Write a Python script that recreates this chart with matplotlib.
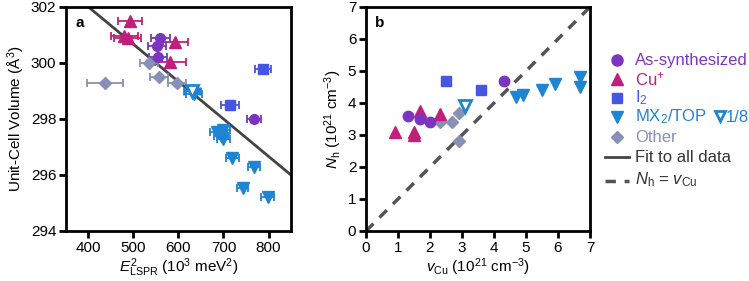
import matplotlib.pyplot as plt
from matplotlib.lines import Line2D

plt.rcParams['font.family'] = ['Liberation Sans', 'DejaVu Sans']
plt.rcParams['mathtext.fontset'] = 'custom'
plt.rcParams['mathtext.rm'] = 'Liberation Sans'
plt.rcParams['mathtext.it'] = 'Liberation Sans:italic'
plt.rcParams['mathtext.bf'] = 'Liberation Sans:bold'

# colours
c_as = '#7b35c0'
c_cu = '#c0207a'
c_i2 = '#4656e4'
c_mx = '#1f84d2'
c_ot = '#8890b8'
c_fit = '#444444'

# ---------------- panel a data: E^2_LSPR (10^3 meV^2) vs unit-cell volume ----------------
as_e2 = [560, 552, 554, 768]
as_vol = [300.9, 300.6, 300.2, 298.0]
as_err = [22, 20, 20, 16]

cu_e2 = [493, 480, 487, 593, 582]
cu_vol = [301.5, 300.95, 300.9, 300.75, 300.05]
cu_err = [27, 30, 30, 28, 35]

i2_e2 = [787, 714]
i2_vol = [299.8, 298.5]
i2_err = [18, 20]

ot_e2 = [437, 534, 556, 597]
ot_vol = [299.3, 300.0, 299.5, 299.3]
ot_err = [40, 20, 20, 20]

mx_e2 = [634, 685, 700, 695, 700, 720, 768, 743, 798]
mx_vol = [298.9, 297.55, 297.6, 297.4, 297.3, 296.6, 296.3, 295.55, 295.2]
mx_err = [18, 15, 15, 15, 15, 14, 14, 12, 14]

mx8_e2 = [630]
mx8_vol = [299.0]
mx8_err = [18]

fit_x = [400, 850]
fit_y = [302.0, 296.0]

# ---------------- panel b data: v_Cu vs N_h (10^21 cm^-3) ----------------
as_v = [1.3, 1.7, 2.0, 4.3]
as_n = [3.6, 3.5, 3.4, 4.7]

cu_v = [0.9, 1.5, 1.5, 1.7, 2.3]
cu_n = [3.1, 3.1, 3.0, 3.75, 3.65]

i2_v = [2.5, 3.6]
i2_n = [4.7, 4.4]

ot_v = [2.3, 2.7, 2.9, 2.9]
ot_n = [3.4, 3.4, 3.7, 2.8]

mx_v = [4.7, 4.9, 5.5, 5.9, 6.7, 6.7]
mx_n = [4.2, 4.25, 4.4, 4.6, 4.8, 4.5]

mx8_v = [3.1]
mx8_n = [3.9]

fig = plt.figure(figsize=(7.49, 2.81), dpi=100)
ax1 = fig.add_axes([66 / 749, 50 / 281, 225 / 749, 224 / 281])
ax2 = fig.add_axes([366 / 749, 50 / 281, 224 / 749, 224 / 281])

ebkw = dict(capsize=3, elinewidth=1.3, capthick=1.3, linestyle='none')

ax1.plot(fit_x, fit_y, color=c_fit, lw=2, zorder=1)
ax1.errorbar(ot_e2, ot_vol, xerr=ot_err, marker='D', ms=6, color=c_ot, **ebkw)
ax1.errorbar(mx_e2, mx_vol, xerr=mx_err, marker='v', ms=8, color=c_mx, **ebkw)
ax1.errorbar(mx8_e2, mx8_vol, xerr=mx8_err, marker='v', ms=8, color=c_mx,
             mfc='white', mew=2, **ebkw)
ax1.errorbar(i2_e2, i2_vol, xerr=i2_err, marker='s', ms=6.5, color=c_i2, **ebkw)
ax1.errorbar(cu_e2, cu_vol, xerr=cu_err, marker='^', ms=8, color=c_cu, **ebkw)
ax1.errorbar(as_e2, as_vol, xerr=as_err, marker='o', ms=7, color=c_as, **ebkw)

ax1.set_xlim(350, 850)
ax1.set_ylim(294, 302)
ax1.set_xticks([400, 500, 600, 700, 800])
ax1.set_yticks([294, 296, 298, 300, 302])
ax1.set_xlabel(r'$E^2_{\mathrm{LSPR}}$ (10$^3$ meV$^2$)', fontsize=11, labelpad=1)
ax1.set_ylabel('Unit-Cell Volume (Å$^3$)', fontsize=11, labelpad=3)
ax1.text(0.04, 0.93, 'a', transform=ax1.transAxes, fontsize=11,
         fontweight='bold', va='center')

# panel b
ax2.plot([0, 7], [0, 7], color='#555555', lw=2.5, ls=(0, (3, 2.5)), zorder=1)
ax2.plot(ot_v, ot_n, 'D', ms=6.5, color=c_ot, ls='none')
ax2.plot(mx_v, mx_n, 'v', ms=8.5, color=c_mx, ls='none')
ax2.plot(mx8_v, mx8_n, 'v', ms=8.5, color=c_mx, mfc='white', mew=2, ls='none')
ax2.plot(i2_v, i2_n, 's', ms=7, color=c_i2, ls='none')
ax2.plot(cu_v, cu_n, '^', ms=8.5, color=c_cu, ls='none')
ax2.plot(as_v, as_n, 'o', ms=7.5, color=c_as, ls='none')

ax2.set_xlim(0, 7)
ax2.set_ylim(0, 7)
ax2.set_xticks(range(8))
ax2.set_yticks(range(8))
ax2.set_xlabel(r'$v_{\mathrm{Cu}}$ (10$^{21}$ cm$^{-3}$)', fontsize=11, labelpad=1)
ax2.set_ylabel(r'$N_{\mathrm{h}}$ (10$^{21}$ cm$^{-3}$)', fontsize=11, labelpad=3)
ax2.text(0.04, 0.93, 'b', transform=ax2.transAxes, fontsize=11,
         fontweight='bold', va='center')

for ax in (ax1, ax2):
    for s in ax.spines.values():
        s.set_linewidth(2)
    ax.tick_params(width=2, length=5, labelsize=11, pad=2)

# manual legend, positions in figure pixels
def fx(px):
    return px / 749

def fy(py):
    return 1 - py / 281

items = [
    ('o', c_as, 'As-synthesized', 60, 8),
    ('^', c_cu, 'Cu$^{+}$', 79, 8),
    ('s', c_i2, 'I$_2$', 98, 7),
    ('v', c_mx, 'MX$_2$/TOP', 117, 8),
    ('D', c_ot, 'Other', 137, 6),
]
for mk, col, lab, py, size in items:
    fig.add_artist(Line2D([fx(617)], [fy(py)], marker=mk, color=col, ms=size,
                          transform=fig.transFigure))
    fig.text(fx(635), fy(py), lab, color=col, fontsize=12, va='center')

fig.add_artist(Line2D([fx(720)], [fy(116)], marker='v', color=c_mx, mfc='white',
                      mew=2, ms=7.5, transform=fig.transFigure))
fig.text(fx(726), fy(117), '1/8', color=c_mx, fontsize=12, va='center')

fig.add_artist(Line2D([fx(605), fx(629)], [fy(157), fy(157)], color=c_fit, lw=2,
                      transform=fig.transFigure))
fig.text(fx(635), fy(157), 'Fit to all data', color='#333333', fontsize=12, va='center')
fig.add_artist(Line2D([fx(605), fx(629)], [fy(181), fy(181)], color='#555555', lw=2.5,
                      ls=(0, (3, 2.5)), transform=fig.transFigure))
fig.text(fx(635), fy(180), r'$N_{\mathrm{h}}$ = $v_{\mathrm{Cu}}$', color='#333333',
         fontsize=12, va='center')

fig.savefig('out.png', dpi=100)
